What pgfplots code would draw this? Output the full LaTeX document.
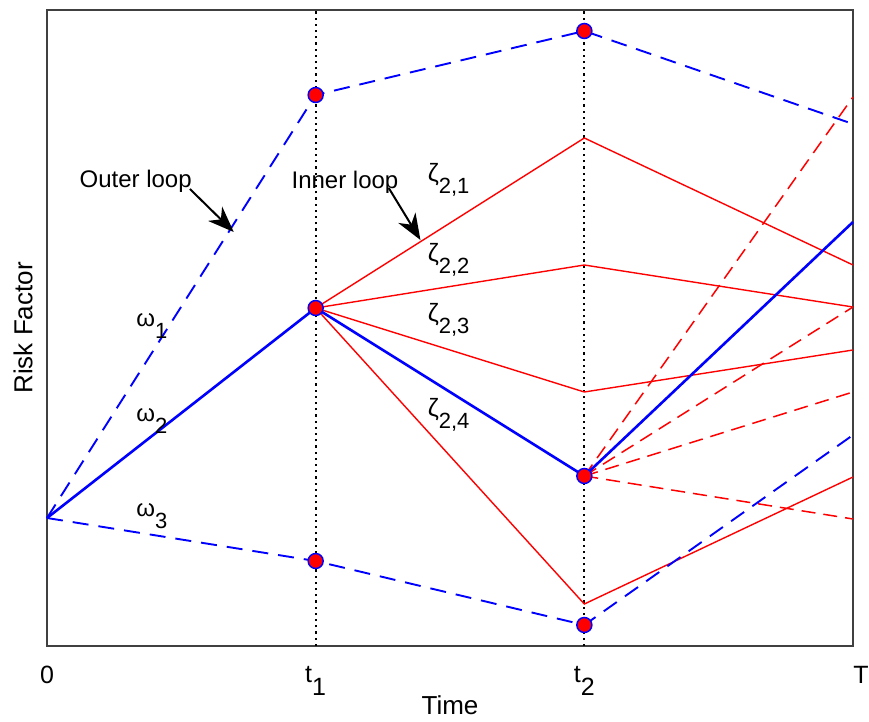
\documentclass[border=0pt]{standalone}
\usepackage{pgfplots}
\pgfplotsset{compat=1.18}
\usepackage{fontspec}
\setmainfont{Liberation Sans}
\usetikzlibrary{arrows.meta}
\newcommand\sub[1]{\raisebox{-0.5em}{#1}}
\begin{document}
\begin{tikzpicture}
\begin{axis}[
  scale only axis,
  width=806pt, height=636pt,
  xmin=0, xmax=3, ymin=0, ymax=636,
  axis line style={line width=1.2pt, black!75},
  xtick={0,1,2,3},
  xticklabels={0,{t\sub{1}},{t\sub{2}},{\hspace{16pt}T}},
  ytick=\empty,
  major tick length=0pt,
  tick label style={font=\fontsize{25}{28}\selectfont},
  xticklabel style={yshift=-17pt, anchor=north, text depth=0pt},
  xlabel={Time},
  ylabel={Risk Factor},
  label style={font=\fontsize{26}{30}\selectfont},
  xlabel style={at={(axis description cs:0.5,0)}, anchor=center, yshift=-59pt},
  ylabel style={at={(axis description cs:0,0.5)}, anchor=center, yshift=24pt},
  clip=false,
]
% vertical dotted lines
\addplot[black, line width=2.2pt, dash pattern=on 2.2pt off 4pt] coordinates {(1,0) (1,636)};
\addplot[black, line width=2.2pt, dash pattern=on 2.2pt off 4pt] coordinates {(2,0) (2,636)};

% red solid inner paths
\addplot[red, line width=1.4pt] coordinates {(1,338) (2,508) (3,381)};
\addplot[red, line width=1.4pt] coordinates {(1,338) (2,381) (3,339)};
\addplot[red, line width=1.4pt] coordinates {(1,338) (2,254) (3,296)};
\addplot[red, line width=1.4pt] coordinates {(1,338) (2,42) (3,169)};

% red dashed from t2
\addplot[red, line width=1.5pt, dash pattern=on 14pt off 8pt] coordinates {(2,170) (3,549)};
\addplot[red, line width=1.5pt, dash pattern=on 14pt off 8pt] coordinates {(2,170) (3,339)};
\addplot[red, line width=1.5pt, dash pattern=on 14pt off 8pt] coordinates {(2,170) (3,254)};
\addplot[red, line width=1.5pt, dash pattern=on 14pt off 8pt] coordinates {(2,170) (3,127)};

% outer loops
\addplot[blue, line width=1.9pt, dash pattern=on 16pt off 10pt] coordinates {(0,128) (1,551) (2,615) (3,522)};
\addplot[blue, line width=2.6pt] coordinates {(0,128) (1,338) (2,170) (3,424)};
\addplot[blue, line width=1.9pt, dash pattern=on 16pt off 10pt] coordinates {(0,128) (1,85) (2,21) (3,211)};

% markers
\addplot[only marks, mark=*, mark size=7.5pt, mark options={fill=red, draw=blue, line width=1.5pt}]
  coordinates {(1,551) (2,615) (1,338) (2,170) (1,85) (2,21)};

% annotations
\node[font=\fontsize{24}{26}\selectfont] at (axis cs:0.33,465) {Outer loop};
\draw[line width=2pt, -{Stealth[length=26pt,width=20pt,inset=8pt]}] (axis cs:0.532,457) -- (axis cs:0.695,414);
\node[font=\fontsize{24}{26}\selectfont] at (axis cs:1.109,464) {Inner loop};
\draw[line width=2pt, -{Stealth[length=26pt,width=20pt,inset=8pt]}] (axis cs:1.272,458) -- (axis cs:1.39,406);

\node[font=\fontsize{25}{26}\selectfont] at (axis cs:1.495,466) {ζ\sub{\fontsize{22}{24}\selectfont 2,1}};
\node[font=\fontsize{25}{26}\selectfont] at (axis cs:1.495,386) {ζ\sub{\fontsize{22}{24}\selectfont 2,2}};
\node[font=\fontsize{25}{26}\selectfont] at (axis cs:1.495,326) {ζ\sub{\fontsize{22}{24}\selectfont 2,3}};
\node[font=\fontsize{25}{26}\selectfont] at (axis cs:1.495,231) {ζ\sub{\fontsize{22}{24}\selectfont 2,4}};
\node[font=\fontsize{24}{26}\selectfont] at (axis cs:0.39,320) {ω\sub{\fontsize{22}{24}\selectfont 1}};
\node[font=\fontsize{24}{26}\selectfont] at (axis cs:0.39,225) {ω\sub{\fontsize{22}{24}\selectfont 2}};
\node[font=\fontsize{24}{26}\selectfont] at (axis cs:0.39,130) {ω\sub{\fontsize{22}{24}\selectfont 3}};
\end{axis}
\pgfresetboundingbox
\path[use as bounding box] (-47pt,-75pt) rectangle (822pt,646pt);
\end{tikzpicture}
\end{document}
